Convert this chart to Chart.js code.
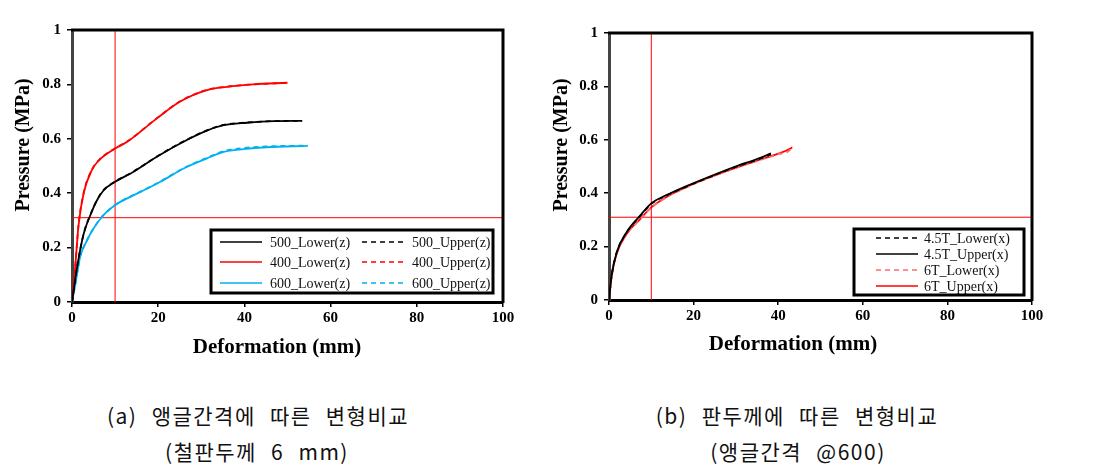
<!DOCTYPE html>
<html>
<head>
<meta charset="utf-8">
<script src="https://cdn.jsdelivr.net/npm/chart.js@4/dist/chart.umd.min.js"></script>
<style>
  body { margin: 0; background: #fff; width: 1107px; height: 476px; position: relative; overflow: hidden; }
  canvas { position: absolute; top: 0; }
  #chartA { left: 0; }
  #chartB { left: 540px; }
  .cap { position: absolute; width: 440px; text-align: center; font-family: "Noto Sans CJK KR"; font-size: 21px; color: #111; letter-spacing: 1.5px; word-spacing: 8px; white-space: nowrap; line-height: 24px; }
</style>
</head>
<body>
<canvas id="chartA" width="540" height="370" style="width:540px;height:370px"></canvas>
<canvas id="chartB" width="567" height="370" style="width:567px;height:370px"></canvas>
<div class="cap" style="left:38px;top:403px">(a) 앵글간격에 따른 변형비교</div>
<div class="cap" style="left:37px;top:439px">(철판두께 6 mm)</div>
<div class="cap" style="left:577px;top:403px">(b) 판두께에 따른 변형비교</div>
<div class="cap" style="left:578px;top:439px">(앵글간격 @600)</div>
<script>
// tick labels
var xTickLabels = ['0', '20', '40', '60', '80', '100'];
var yTickLabels = ['0', '0.2', '0.4', '0.6', '0.8', '1'];

// reference lines (same on both charts)
var refX = 10;
var refY = 0.31;

// (a) angle spacing, 6 mm plate
var a500x = [0, 1.2, 2.7, 4.4, 5.8, 7.3, 10, 14.3, 19.7, 25.1, 31.3, 35.2, 40.6, 46.8, 53.4];
var a500Lower = [0, 0.13, 0.25, 0.325, 0.374, 0.41, 0.442, 0.479, 0.534, 0.583, 0.63, 0.65, 0.659, 0.665, 0.666];
var a500Upper = [0, 0.13, 0.251, 0.326, 0.375, 0.411, 0.443, 0.48, 0.535, 0.584, 0.631, 0.651, 0.66, 0.665, 0.666];

var a400x = [0, 0.8, 1.5, 2.7, 4.6, 6.2, 10, 12.8, 19.7, 25.1, 31.3, 36, 42, 50];
var a400Lower = [0, 0.14, 0.28, 0.4, 0.485, 0.52, 0.564, 0.589, 0.675, 0.737, 0.779, 0.791, 0.8, 0.806];
var a400Upper = [0, 0.14, 0.281, 0.401, 0.486, 0.521, 0.565, 0.59, 0.676, 0.738, 0.78, 0.792, 0.8, 0.806];

var a600x = [0, 0.8, 1.9, 3.5, 5, 7.3, 10, 11.2, 15.9, 20.5, 25.9, 31.3, 35.2, 39.8, 45.2, 54.7];
var a600Lower = [0, 0.067, 0.166, 0.227, 0.27, 0.319, 0.356, 0.368, 0.405, 0.442, 0.491, 0.528, 0.552, 0.562, 0.569, 0.574];
var a600Upper = [0, 0.068, 0.167, 0.228, 0.271, 0.32, 0.357, 0.369, 0.406, 0.443, 0.492, 0.53, 0.555, 0.566, 0.572, 0.575];

// (b) plate thickness, angle @600
var b45x = [0, 0.6, 1.8, 4.2, 7.3, 10, 13.6, 17.9, 23.1, 29.9, 35, 38.3];
var b45Lower = [0, 0.088, 0.176, 0.253, 0.313, 0.36, 0.391, 0.422, 0.456, 0.498, 0.525, 0.545];
var b45Upper = [0, 0.09, 0.178, 0.255, 0.315, 0.362, 0.393, 0.424, 0.458, 0.5, 0.528, 0.549];

var b6x = [0, 0.6, 1.8, 4.2, 7.3, 10, 13.6, 17.9, 23.1, 29.9, 35, 40, 43, 43.3];
var b6Lower = [0, 0.086, 0.172, 0.247, 0.301, 0.346, 0.385, 0.419, 0.454, 0.494, 0.521, 0.546, 0.566, 0.578];
var b6Upper = [0, 0.087, 0.173, 0.248, 0.302, 0.347, 0.386, 0.42, 0.455, 0.495, 0.522, 0.548, 0.568, 0.572];

function pts(xs, ys) {
  return xs.map(function (x, i) { return { x: x, y: ys[i] }; });
}

function curve(label, xs, ys, color, dashed) {
  return {
    label: label,
    data: pts(xs, ys),
    borderColor: color,
    borderWidth: 1.8,
    borderDash: dashed ? [5, 4] : [],
    pointRadius: 0,
    fill: false,
    cubicInterpolationMode: 'monotone'
  };
}

function refLines() {
  return [
    { data: [{ x: refX, y: 0 }, { x: refX, y: 1 }], borderColor: '#ff0000', borderWidth: 1, pointRadius: 0, isRef: true },
    { data: [{ x: 0, y: refY }, { x: 100, y: refY }], borderColor: '#ff0000', borderWidth: 1, pointRadius: 0, isRef: true }
  ];
}

// frame (top/right edges), axis titles and boxed legend
var framePlugin = {
  id: 'frame',
  afterDraw: function (chart, args, o) {
    var ctx = chart.ctx, a = chart.chartArea;
    ctx.save();
    ctx.strokeStyle = '#000';
    ctx.lineWidth = 3;
    ctx.beginPath();
    ctx.moveTo(a.left - 1, a.top);
    ctx.lineTo(a.right, a.top);
    ctx.lineTo(a.right, a.bottom + 1);
    ctx.stroke();

    ctx.fillStyle = '#000';
    ctx.font = 'bold 21px "Liberation Serif"';
    ctx.textAlign = 'center';
    ctx.textBaseline = 'middle';
    ctx.fillText('Deformation (mm)', o.xTitle[0], o.xTitle[1]);
    ctx.translate(o.yTitle[0], o.yTitle[1]);
    ctx.rotate(-Math.PI / 2);
    ctx.font = 'bold 20px "Liberation Serif"';
    ctx.fillText('Pressure (MPa)', 0, 0);
    ctx.restore();

    var L = o.legend;
    ctx.save();
    ctx.fillStyle = '#fff';
    ctx.fillRect(L.x, L.y, L.w, L.h);
    ctx.strokeStyle = '#000';
    ctx.lineWidth = 3;
    ctx.strokeRect(L.x, L.y, L.w, L.h);
    ctx.font = '14px "Liberation Serif"';
    ctx.textAlign = 'left';
    ctx.textBaseline = 'middle';
    var i = 0;
    chart.data.datasets.forEach(function (ds) {
      if (ds.isRef) return;
      var col = i % L.cols, row = Math.floor(i / L.cols);
      var lx = L.x + L.colX[col], ly = L.y + L.rowY[row];
      ctx.strokeStyle = ds.borderColor;
      ctx.lineWidth = 1.5;
      ctx.setLineDash(ds.borderDash || []);
      ctx.beginPath();
      ctx.moveTo(lx, ly);
      ctx.lineTo(lx + L.lineLen, ly);
      ctx.stroke();
      ctx.setLineDash([]);
      ctx.fillStyle = '#111';
      ctx.fillText(ds.label, lx + L.lineLen + L.gap, ly + 1);
      i++;
    });
    ctx.restore();
  }
};

function scales(yWidth, xHeight) {
  var tickFont = { family: 'Liberation Serif', size: 15, weight: 'bold' };
  return {
    x: {
      type: 'linear', min: 0, max: 100,
      ticks: { stepSize: 20, font: tickFont, color: '#000', padding: 2, maxRotation: 0,
        callback: function (v, i) { return xTickLabels[i]; } },
      grid: { drawOnChartArea: false, tickLength: 5, color: '#000', lineWidth: 1.5 },
      border: { color: '#000', width: 3 },
      afterFit: function (s) { s.height = xHeight; }
    },
    y: {
      type: 'linear', min: 0, max: 1,
      ticks: { stepSize: 0.2, font: tickFont, color: '#000', padding: 6,
        callback: function (v, i) { return yTickLabels[i]; } },
      grid: { drawOnChartArea: false, tickLength: 5, color: '#000', lineWidth: 1.5 },
      border: { color: '#444', width: 3 },
      afterFit: function (s) { s.width = yWidth; }
    }
  };
}

new Chart('chartA', {
  type: 'line',
  data: {
    datasets: [
      curve('500_Lower(z)', a500x, a500Lower, '#000000', false),
      curve('500_Upper(z)', a500x, a500Upper, '#000000', true),
      curve('400_Lower(z)', a400x, a400Lower, '#ff0000', false),
      curve('400_Upper(z)', a400x, a400Upper, '#ff0000', true),
      curve('600_Lower(z)', a600x, a600Lower, '#00b0f0', false),
      curve('600_Upper(z)', a600x, a600Upper, '#00b0f0', true)
    ].concat(refLines())
  },
  options: {
    responsive: false,
    animation: false,
    layout: { padding: { top: 30, right: 37, left: 0, bottom: 0 } },
    scales: scales(72, 68),
    plugins: {
      legend: { display: false },
      tooltip: { enabled: false },
      frame: {
        xTitle: [277, 348], yTitle: [24, 145],
        legend: { x: 211, y: 230, w: 282, h: 63, cols: 2, colX: [9, 151], rowY: [12, 32, 53], lineLen: 42, gap: 8 }
      }
    }
  },
  plugins: [framePlugin]
});

new Chart('chartB', {
  type: 'line',
  data: {
    datasets: [
      curve('4.5T_Lower(x)', b45x, b45Lower, '#000000', true),
      curve('4.5T_Upper(x)', b45x, b45Upper, '#000000', false),
      curve('6T_Lower(x)', b6x, b6Lower, '#ff6b6b', true),
      curve('6T_Upper(x)', b6x, b6Upper, '#ff0000', false)
    ].concat(refLines())
  },
  options: {
    responsive: false,
    animation: false,
    layout: { padding: { top: 33, right: 75, left: 0, bottom: 0 } },
    scales: scales(69, 70),
    plugins: {
      legend: { display: false },
      tooltip: { enabled: false },
      frame: {
        xTitle: [253, 345], yTitle: [22, 145],
        legend: { x: 314, y: 229, w: 170, h: 66, cols: 1, colX: [22], rowY: [9, 25, 41, 57], lineLen: 42, gap: 6 }
      }
    }
  },
  plugins: [framePlugin]
});
</script>
</body>
</html>
